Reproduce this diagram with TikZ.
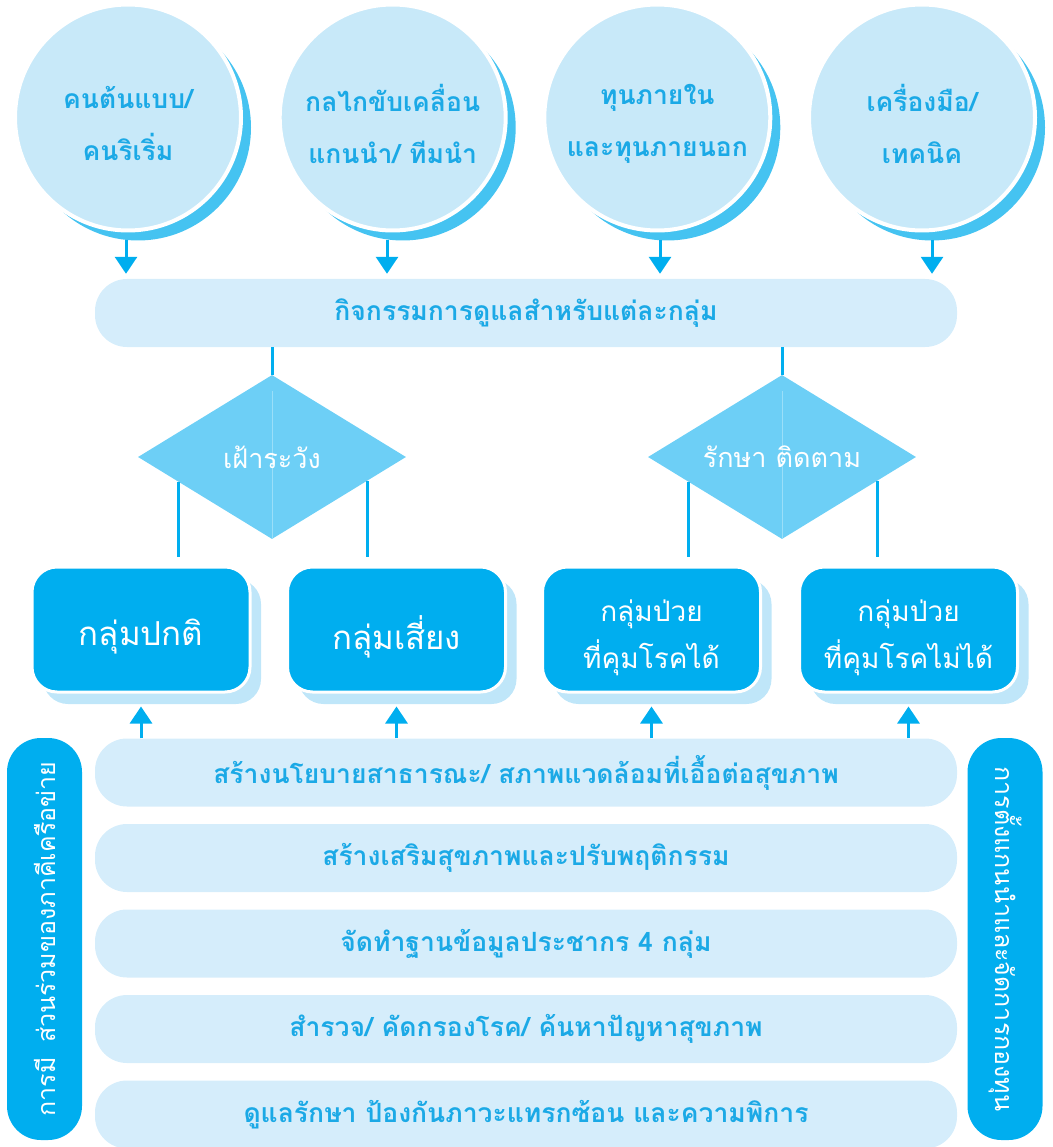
\documentclass[tikz,border=0pt]{standalone}
\usepackage{fontspec}
\newfontfamily\thai[Script=Thai]{Loma}
\usetikzlibrary{arrows.meta,shapes.geometric,calc}

\definecolor{circfill}{HTML}{C8E9F9}
\definecolor{circrim}{HTML}{45C3F1}
\definecolor{inktext}{HTML}{1BA9E6}
\definecolor{barfill}{HTML}{D5EDFB}
\definecolor{kite}{HTML}{6DCFF6}
\definecolor{kiteline}{HTML}{9ADFF9}
\definecolor{groupblue}{HTML}{00AEEF}
\definecolor{groupshade}{HTML}{BFE6F9}
\definecolor{wire}{HTML}{00AEEF}

\begin{document}
\begin{tikzpicture}[x=1pt, y=-1pt,
  conn/.style={draw=wire, line width=3pt},
  tip/.style={-{Triangle[width=22pt,length=17pt]}},
  hub/.style={circle, fill=circfill, draw=white, line width=4pt, minimum size=226pt,
    inner sep=0pt},
  hubtext/.style={align=center, text=inktext, inner sep=0pt,
    font=\thai\bfseries\fontsize{26.5}{52}\selectfont},
  band/.style={rectangle, rounded corners=32pt, fill=barfill, minimum width=862pt,
    minimum height=68pt, inner sep=0pt, text=inktext,
    font=\thai\bfseries\fontsize{26.5}{30}\selectfont},
  kiteshape/.style={diamond, fill=kite, minimum width=268pt, minimum height=164pt,
    inner sep=0pt},
  kitetext/.style={text=white, inner sep=0pt, font=\thai\fontsize{27}{30}\selectfont},
  group/.style={rectangle, rounded corners=25pt, fill=groupblue, draw=white,
    line width=3pt, minimum width=218pt, minimum height=125pt, inner sep=0pt},
  grouptext/.style={align=center, text=white, inner sep=0pt,
    font=\thai\fontsize{33}{46}\selectfont},
  grouptexttwo/.style={grouptext, font=\thai\fontsize{28}{47}\selectfont},
  pill/.style={rectangle, rounded corners=34pt, fill=groupblue, minimum width=402pt,
    minimum height=75pt, inner sep=0pt, text=white,
    font=\thai\fontsize{25}{28}\selectfont}]
\useasboundingbox (0,0) rectangle (1052,1147);

% --- resource circles with offset rims
\foreach \cx in {128,392.7,657.3,922}
  \fill[circrim] (\cx+10,127.5) circle (113);
\node[hub] (c1) at (128,117.5)   {};
\node[hub] (c2) at (392.7,117.5) {};
\node[hub] (c3) at (657.3,117.5) {};
\node[hub] (c4) at (922,117.5)   {};
\node[hubtext] (c1t) at ([yshift=-6pt]c1.center) {คนต้นแบบ/\\คนริเริ่ม};
\node[hubtext] (c2t) at ([yshift=-6pt]c2.center) {กลไกขับเคลื่อน\\แกนนำ/ ทีมนำ};
\node[hubtext] (c3t) at ([yshift=-6pt]c3.center) {ทุนภายใน\\และทุนภายนอก};
\node[hubtext] (c4t) at ([yshift=-6pt]c4.center) {เครื่องมือ/\\เทคนิค};

% --- activity bar
\node[band] (top) at (526,313) {กิจกรรมการดูแลสำหรับแต่ละกลุ่ม};

\coordinate (a1) at (126,240);
\coordinate (a2) at (387,240);
\coordinate (a3) at (660,240);
\coordinate (a4) at (932,240);
\foreach \a in {a1,a2,a3,a4}
  \draw[conn,tip,shorten >=5pt] (\a) -- (\a |- top.north);

% --- decision kites
\node[kiteshape] (d1) at (272,457) {};
\node[kiteshape] (d2) at (782,457) {};
\draw[kiteline, line width=1pt] ($(d1.north)!0.1!(d1.south)$) -- (d1.south);
\draw[kiteline, line width=1pt] ($(d2.north)!0.1!(d2.south)$) -- (d2.south);
\node[kitetext] (d1t) at (d1.center) {เฝ้าระวัง};
\node[kitetext] (d2t) at (d2.center) {รักษา ติดตาม};
\draw[conn] (d1.north |- top.south) -- (d1.north);
\draw[conn] (d2.north |- top.south) -- (d2.north);

% --- population groups
\foreach \gx in {141,396.5,651.5,908.5}
  \fill[groupshade, rounded corners=25pt] (\gx-109+11,567+12) rectangle (\gx+109+11,692+12);
\node[group] (g1) at (141,629.5)   {};
\node[group] (g2) at (396.5,629.5) {};
\node[group] (g3) at (651.5,629.5) {};
\node[group] (g4) at (908.5,629.5) {};
\node[grouptext] (g1t) at ([yshift=-7pt]g1.center) {กลุ่มปกติ};
\node[grouptext] (g2t) at ([yshift=-7pt]g2.center) {กลุ่มเสี่ยง};
\node[grouptexttwo] (g3t) at ([yshift=-8pt]g3.center) {กลุ่มป่วย\\ที่คุมโรคได้};
\node[grouptexttwo] (g4t) at ([yshift=-8pt]g4.center) {กลุ่มป่วย\\ที่คุมโรคไม่ได้};

\coordinate (l1) at ($(d1.west)!0.3!(d1.south)$);
\coordinate (l2) at ($(d1.south)!0.71!(d1.east)$);
\coordinate (l3) at ($(d2.west)!0.3!(d2.south)$);
\coordinate (l4) at ($(d2.south)!0.71!(d2.east)$);
\draw[conn, shorten >=9pt] (l1) -- (l1 |- g1.north);
\draw[conn, shorten >=9pt] (l2) -- (l2 |- g2.north);
\draw[conn, shorten >=9pt] (l3) -- (l3 |- g3.north);
\draw[conn, shorten >=9pt] (l4) -- (l4 |- g4.north);

% --- service bars
\node[band] (b1) at (526,772.5)  {สร้างนโยบายสาธารณะ/ สภาพแวดล้อมที่เอื้อต่อสุขภาพ};
\node[band] (b2) at (526,858)    {สร้างเสริมสุขภาพและปรับพฤติกรรม};
\node[band] (b3) at (526,943.5)  {จัดทำฐานข้อมูลประชากร 4 กลุ่ม};
\node[band] (b4) at (526,1029)   {สำรวจ/ คัดกรองโรค/ ค้นหาปัญหาสุขภาพ};
\node[band] (b5) at (526,1114.5) {ดูแลรักษา ป้องกันภาวะแทรกซ้อน และความพิการ};

\foreach \g in {g1,g2,g3,g4}
  \draw[conn,tip,shorten >=13pt] (\g.south |- b1.north) -- (\g.south);

% --- side pillars
\node[pill, rotate=90]  (lp) at (44.5,939) {การมี\hspace{6pt} ส่วนร่วมของภาคีเครือข่าย};
\node[pill, rotate=-90] (rp) at (1005,939) {การตั้งแกนนำและจัดการกองทุน};
\end{tikzpicture}
\end{document}
